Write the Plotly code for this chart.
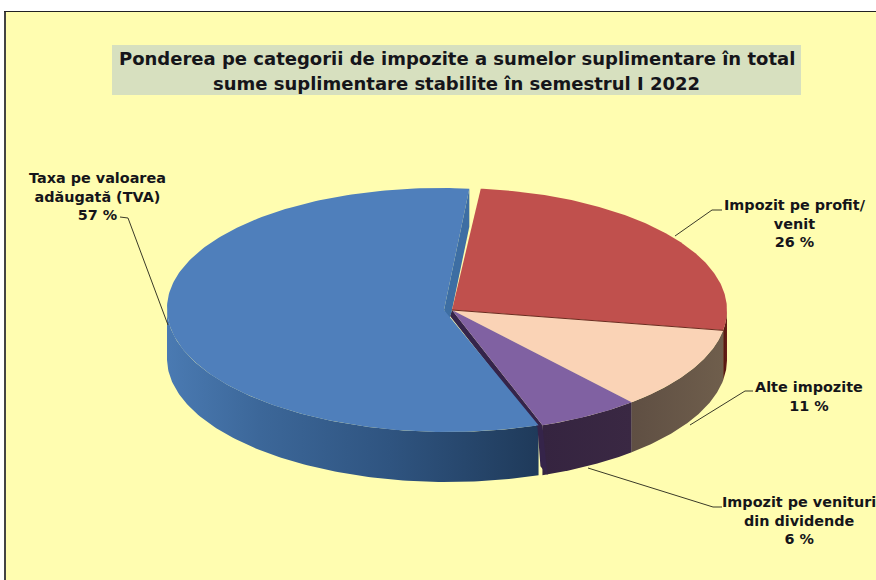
import numpy as np
import plotly.graph_objects as go

categories = ["Impozit pe profit/<br>venit", "Alte impozite", "Impozit pe venituri<br>din dividende", "Taxa pe valoarea<br>adăugată (TVA)"]
shares = [26, 11, 6, 57]
title_lines = ["Ponderea pe categorii de impozite a sumelor suplimentare în total",
               "sume suplimentare stabilite în semestrul I 2022"]

top_colors = ["#c0504d", "#fad3b6", "#8061a2", "#4f7fbb"]
side_scales = [
    [[0, "#4f150e"], [1, "#6a2018"]],
    [[0, "#5f4f43"], [1, "#6f5e4c"]],
    [[0, "#352440"], [1, "#3a2843"]],
    [[0, "#4a7ab2"], [0.25, "#3c6799"], [0.6, "#2f5480"], [1, "#1f3a5a"]],
]
centres = [(452, 310), (452, 310), (452, 310), (444, 310)]
radii = [(275, 122), (275, 122), (275, 122), (277, 122)]
skews = [0.0, 0.0, 0.0, 0.03]
DEPTH = 50
FIRST_ANGLE = 6.0

label_x = [795, 809, 799, 97]
label_y = [223, 396, 520, 196]
leaders = [
    [(722, 210), (712, 210), (675, 236)],
    [(753, 391), (745, 391), (690, 425)],
    [(722, 507), (713, 507), (588, 468)],
    [(120, 217), (128, 218), (168, 325)],
]

edges = FIRST_ANGLE + np.concatenate([[0], np.cumsum(shares)]) * 3.6


def pts(i, angles, dz=0.0):
    c, r = centres[i], radii[i]
    a = np.radians(np.asarray(angles, float))
    x = c[0] + r[0] * np.sin(a)
    y = c[1] - r[1] * np.cos(a)
    return x + skews[i] * (y - c[1]), y + dz


fig = go.Figure()

# outer walls, back to front
for i in range(4):
    lo, hi = max(edges[i], 90), min(edges[i + 1], 270)
    angs = np.linspace(lo, hi, 120)
    x, y = pts(i, angs)
    xb, yb = pts(i, angs, DEPTH)
    fig.add_trace(go.Scatter(
        x=np.r_[x, xb[::-1]], y=np.r_[y, yb[::-1]], mode="lines", fill="toself",
        line=dict(width=0), fillgradient=dict(type="horizontal", colorscale=side_scales[i]),
        hoverinfo="skip", showlegend=False))

# dark cut face of the purple slice next to the pulled-out blue slice
ex, ey = pts(2, [edges[3]])
exb, eyb = pts(2, [edges[3]], DEPTH)
fig.add_trace(go.Scatter(
    x=[centres[2][0], ex[0], exb[0] + 5, ex[0] - 2, ex[0] - 5, centres[2][0] - 2],
    y=[centres[2][1], ey[0], eyb[0], eyb[0] - 9, ey[0] + 2, centres[2][1] + 6],
    mode="lines", fill="toself", fillcolor="#35244a", line=dict(width=0),
    hoverinfo="skip", showlegend=False))

# cut face of the blue slice seen in the gap at the top
sx, sy = pts(3, [edges[4]])
fig.add_trace(go.Scatter(
    x=[sx[0], sx[0], centres[2][0], centres[3][0] + 5, centres[3][0]],
    y=[sy[0], sy[0] + 38, centres[2][1], centres[3][1] + 10, centres[3][1]],
    mode="lines", fill="toself", fillcolor="#3d6ea3", line=dict(width=0),
    hoverinfo="skip", showlegend=False))

# top faces
for i in [3, 0, 1, 2]:
    angs = np.linspace(edges[i], edges[i + 1], 200)
    x, y = pts(i, angs)
    fig.add_trace(go.Scatter(
        x=np.r_[centres[i][0], x, centres[i][0]], y=np.r_[centres[i][1], y, centres[i][1]],
        mode="lines", fill="toself", fillcolor=top_colors[i], line=dict(width=0),
        name=categories[i].replace("<br>", " "), text=f"{shares[i]} %",
        hoverinfo="name+text", showlegend=False))

# seam between red and peach
rx, ry = pts(1, [edges[1]])
fig.add_trace(go.Scatter(x=[centres[1][0], rx[0]], y=[centres[1][1], ry[0]], mode="lines",
                         line=dict(color="#6a2a20", width=1), hoverinfo="skip", showlegend=False))

# leader lines
for path in leaders:
    fig.add_trace(go.Scatter(x=[p[0] for p in path], y=[p[1] for p in path], mode="lines",
                             line=dict(color="#3a3a28", width=1), hoverinfo="skip", showlegend=False))

for i in range(4):
    fig.add_annotation(x=label_x[i], y=label_y[i], text=f"<b>{categories[i]}<br>{shares[i]} %</b>",
                       showarrow=False, align="center", xanchor="center", yanchor="middle",
                       font=dict(family="DejaVu Sans", size=14.4, color="#15151a"))

# title band
fig.add_shape(type="rect", x0=112, x1=801, y0=45, y1=95, fillcolor="#d7e0bf", line_width=0, layer="below")
for y, line in zip([58, 83], title_lines):
    fig.add_annotation(x=456.5, y=y, text=f"<b>{line}</b>", showarrow=False, xanchor="center", yanchor="middle",
                       font=dict(family="DejaVu Sans", size=18, color="#15151a"))

fig.update_layout(
    width=876, height=580, margin=dict(l=6, r=0, t=12, b=0, pad=0), autosize=False,
    paper_bgcolor="#ffffff", plot_bgcolor="#fffdb0", showlegend=False,
    xaxis=dict(range=[6, 876], side="top", showgrid=False, zeroline=False, showticklabels=False,
               ticks="", showline=True, linecolor="#222222", linewidth=1, fixedrange=True),
    yaxis=dict(range=[580, 12], showgrid=False, zeroline=False, showticklabels=False,
               ticks="", showline=True, linecolor="#444444", linewidth=2, fixedrange=True),
)
fig.write_html("out.html", config={"displayModeBar": False},
               post_script="document.body.style.margin='0';document.body.style.overflow='hidden';")
